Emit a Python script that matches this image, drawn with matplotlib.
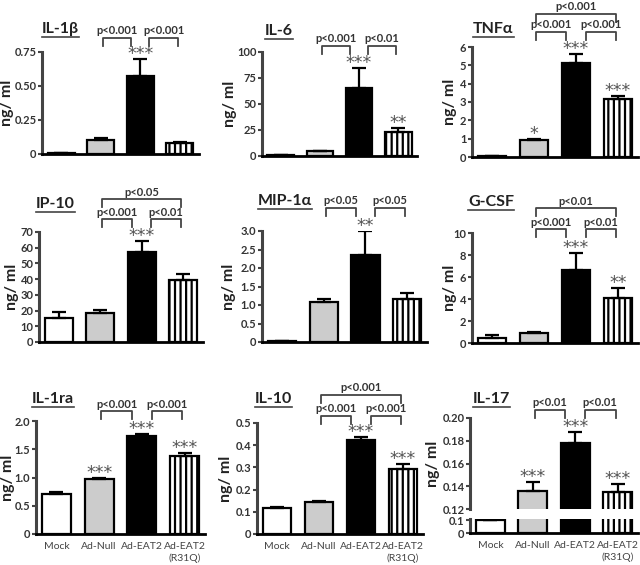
import numpy as np
import matplotlib
matplotlib.use("Agg")
import matplotlib.pyplot as plt
from matplotlib.lines import Line2D

'''
Cytokine levels (ng/ml) for the four treatment groups, nine panels.
Values read off the original figure by eye.
'''

W, H = 640, 565
FONT = ["Lato", "DejaVu Sans"]

groups = ["Mock", "Ad-Null", "Ad-EAT2", "Ad-EAT2\n(R31Q)"]

il1b = [0.01, 0.10, 0.57, 0.08]
il1b_err = [0.0, 0.015, 0.13, 0.01]
il6 = [0.5, 4.5, 65.5, 23.0]
il6_err = [0.0, 0.0, 19.0, 4.0]
tnfa = [0.05, 0.93, 5.15, 3.18]
tnfa_err = [0.0, 0.06, 0.45, 0.13]
ip10 = [15.5, 18.7, 57.5, 39.7]
ip10_err = [3.8, 1.7, 6.5, 3.4]
mip1a = [0.02, 1.07, 2.35, 1.16]
mip1a_err = [0.0, 0.1, 0.66, 0.17]
gcsf = [0.48, 0.90, 6.64, 4.06]
gcsf_err = [0.27, 0.08, 1.55, 0.95]
il1ra = [0.70, 0.97, 1.73, 1.38]
il1ra_err = [0.045, 0.02, 0.045, 0.045]
il10 = [0.118, 0.146, 0.423, 0.295]
il10_err = [0.004, 0.004, 0.015, 0.02]
il17 = [0.099, 0.136, 0.178, 0.135]
il17_err = [0.0, 0.008, 0.01, 0.007]

# significance stars above each bar
il1b_stars = ["", "", "***", ""]
il6_stars = ["", "", "***", "**"]
tnfa_stars = ["", "*", "***", "***"]
ip10_stars = ["", "", "***", ""]
mip1a_stars = ["", "", "**", ""]
gcsf_stars = ["", "", "***", "**"]
il1ra_stars = ["", "***", "***", "***"]
il10_stars = ["", "", "***", "***"]
il17_stars = ["", "***", "***", "***"]

# p-value brackets: (label, span, pixels above axes top)
L = (1.05, 1.77)
R = (2.23, 2.95)
T = (1.05, 2.95)
il1b_p = [("p<0.001", L, 14), ("p<0.001", R, 14)]
il6_p = [("p<0.001", L, 6), ("p<0.01", R, 6)]
tnfa_p = [("p<0.001", L, 15), ("p<0.001", R, 15), ("p<0.001", T, 33)]
ip10_p = [("p<0.001", L, 13), ("p<0.01", R, 13), ("p<0.05", T, 33)]
mip1a_p = [("p<0.05", L, 23), ("p<0.05", R, 23)]
gcsf_p = [("p<0.001", L, 4), ("p<0.01", R, 4), ("p<0.01", T, 25)]
il1ra_p = [("p<0.001", L, 10), ("p<0.001", R, 10)]
il10_p = [("p<0.001", L, 7), ("p<0.001", R, 7), ("p<0.001", T, 28)]
il17_p = [("p<0.01", L, 8), ("p<0.01", R, 8)]

bar_colors = ["white", "#cccccc", "black", "white"]
spine_col = "#444444"
txt_col = "#333333"

plt.rcParams["hatch.linewidth"] = 1.6

fig = plt.figure(figsize=(W / 100, H / 100), dpi=100)


def px_rect(x0, x1, yt, yb):
    return [x0 / W, 1 - yb / H, (x1 - x0) / W, (yb - yt) / H]


def style_axes(ax, ticks, labels, ylim, bottom=True):
    ax.set_xlim(-0.48, 3.48)
    ax.set_ylim(*ylim)
    ax.set_yticks(ticks)
    ax.set_yticklabels(labels, fontsize=8, fontweight="bold", color=txt_col, family=FONT)
    ax.spines["top"].set_visible(False)
    ax.spines["right"].set_visible(False)
    ax.spines["left"].set_color(spine_col)
    ax.spines["left"].set_linewidth(2.2)
    ax.spines["bottom"].set_color("black")
    ax.spines["bottom"].set_linewidth(2.0)
    if not bottom:
        ax.spines["bottom"].set_visible(False)
    ax.tick_params(axis="y", length=3, width=1.5, color=spine_col, pad=1)
    ax.tick_params(axis="x", length=0)
    ax.set_xticks([])
    ax.patch.set_alpha(0)


def draw_bars(ax, vals, errs):
    x = np.arange(len(vals))
    bars = ax.bar(x, vals, width=0.68, color=bar_colors, edgecolor="black",
                  linewidth=1.6, zorder=2)
    bars[3].set_hatch("|||")
    ax.errorbar(x, vals, yerr=[np.zeros(len(errs)), errs], fmt="none", ecolor="black",
                elinewidth=1.6, capsize=5, capthick=1.6, zorder=3)


def draw_stars(ax, vals, errs, stars):
    for i, s in enumerate(stars):
        if s:
            ax.annotate(s, (i, vals[i] + errs[i]), xytext=(0, 0), textcoords="offset points",
                        ha="center", va="baseline", fontsize=12.5, color="#555555",
                        annotation_clip=False)


def draw_brackets(ax, brackets, h_px):
    tr = ax.get_xaxis_transform()
    for label, (x0, x1), up in brackets:
        y = 1 + up / h_px
        yl = 1 + (up - 8) / h_px
        ax.plot([x0, x0, x1, x1], [yl, y, y, yl], transform=tr, clip_on=False,
                color=spine_col, lw=1.3)
        ax.text((x0 + x1) / 2, y + 1.5 / h_px, label, transform=tr, ha="center", va="bottom",
                fontsize=8, fontweight="bold", color=txt_col, family=FONT)


titles = []


def set_xlabels(ax):
    ax.set_xticks(range(4))
    ax.set_xticklabels(groups, fontsize=7.5, color="#444444", family=FONT, linespacing=1.3)
    ax.tick_params(axis="x", pad=6)


def panel(rect, vals, errs, stars, brackets, ticks, labels, title, title_xy, ylabel_x, xlabels=False):
    ax = fig.add_axes(px_rect(*rect))
    draw_bars(ax, vals, errs)
    style_axes(ax, ticks, labels, (ticks[0], ticks[-1]))
    draw_stars(ax, vals, errs, stars)
    draw_brackets(ax, brackets, rect[3] - rect[2])
    if xlabels:
        set_xlabels(ax)
    fig.text(ylabel_x / W, 1 - (rect[2] + rect[3]) / 2 / H, "ng/ ml", rotation=90,
             ha="center", va="center", fontsize=11.5, fontweight="bold", color="#222222",
             family=FONT)
    t = fig.text(title_xy[0] / W, 1 - title_xy[1] / H, title, ha="left", va="center",
                 fontsize=11.5, fontweight="bold", color="#222222", family=FONT)
    titles.append(t)
    return ax


panel((42, 199, 52, 154), il1b, il1b_err, il1b_stars, il1b_p,
      [0, 0.25, 0.5, 0.75], ["0", "0.25", "0.50", "0.75"], "IL-1β", (42, 29), 7)
panel((262, 417, 52, 156), il6, il6_err, il6_stars, il6_p,
      [0, 25, 50, 75, 100], ["0", "25", "50", "75", "100"], "IL-6", (265, 31), 230)
panel((472, 638, 47, 157), tnfa, tnfa_err, tnfa_stars, tnfa_p,
      list(range(7)), [str(v) for v in range(7)], "TNFα", (473, 29), 450)
panel((39, 203, 232, 342), ip10, ip10_err, ip10_stars, ip10_p,
      list(range(0, 80, 10)), [str(v) for v in range(0, 80, 10)], "IP-10", (36, 204), 12)
panel((262, 427, 231, 342), mip1a, mip1a_err, mip1a_stars, mip1a_p,
      [0, 0.5, 1, 1.5, 2, 2.5, 3], ["0", "0.5", "1.0", "1.5", "2.0", "2.5", "3.0"],
      "MIP-1α", (258, 201), 229)
panel((472, 638, 233, 343), gcsf, gcsf_err, gcsf_stars, gcsf_p,
      [0, 2, 4, 6, 8, 10], ["0", "2", "4", "6", "8", "10"], "G-CSF", (468, 202), 450)
panel((36, 205, 421, 534), il1ra, il1ra_err, il1ra_stars, il1ra_p,
      [0, 0.5, 1, 1.5, 2], ["0", "0.5", "1.0", "1.5", "2.0"], "IL-1ra", (32, 399), 8, True)
panel((257, 423, 423, 534), il10, il10_err, il10_stars, il10_p,
      [0, 0.1, 0.2, 0.3, 0.4, 0.5], ["0", "0.1", "0.2", "0.3", "0.4", "0.5"],
      "IL-10", (255, 399), 226, True)

# IL-17 has a broken y axis: 0-0.1 below, 0.12-0.20 above
up_rect = (470, 638, 418, 509)
lo_rect = (470, 638, 519, 533)
ax_up = fig.add_axes(px_rect(*up_rect))
draw_bars(ax_up, il17, il17_err)
style_axes(ax_up, [0.12, 0.14, 0.16, 0.18, 0.20], ["0.12", "0.14", "0.16", "0.18", "0.20"],
           (0.12, 0.20), bottom=False)
draw_stars(ax_up, il17, il17_err, il17_stars)
draw_brackets(ax_up, il17_p, up_rect[3] - up_rect[2])

ax_lo = fig.add_axes(px_rect(*lo_rect))
draw_bars(ax_lo, il17, il17_err)
style_axes(ax_lo, [0, 0.1], ["0", "0.1"], (0, 0.108))
set_xlabels(ax_lo)
fig.text(433 / W, 1 - (up_rect[2] + up_rect[3]) / 2 / H, "ng/ ml", rotation=90,
         ha="center", va="center", fontsize=11.5, fontweight="bold", color="#222222", family=FONT)
titles.append(fig.text(473 / W, 1 - 399 / H, "IL-17", ha="left", va="center", fontsize=11.5,
                       fontweight="bold", color="#222222", family=FONT))

# underline the panel titles
fig.canvas.draw()
renderer = fig.canvas.get_renderer()
for t in titles:
    bb = t.get_window_extent(renderer)
    y = bb.y0 - 1
    fig.add_artist(Line2D([bb.x0 / W, bb.x1 / W], [y / H, y / H], transform=fig.transFigure,
                          color="#444444", lw=1.2))

fig.savefig("out.png", dpi=100)
